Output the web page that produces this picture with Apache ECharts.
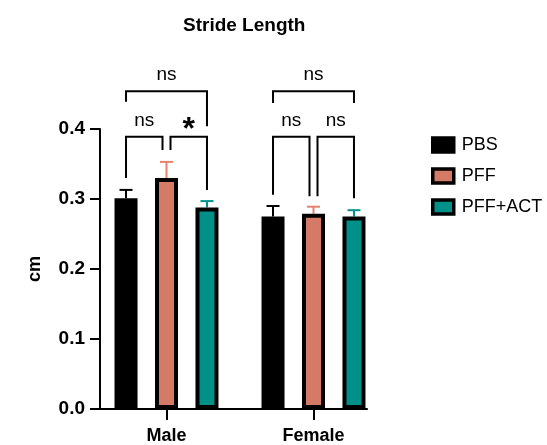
<!DOCTYPE html>
<html lang="en">
<head>
	<meta charset="UTF-8">
	<title>Stride Length</title>
	<style>
		html,body{background-color:#fff;height:100%;overflow:hidden;margin:0;padding:0;}
		#main{width:547px;height:445px;}
	</style>
</head>
<body>
	<div id="main"></div>
	<script src="https://cdn.jsdelivr.net/npm/echarts@6/dist/echarts.min.js"></script>
	<script>
		var categories = ['Male', 'Female'];
		var groupNames = ['PBS', 'PFF', 'PFF+ACT'];
		var pbsMean = [0.301, 0.275];
		var pffMean = [0.330, 0.279];
		var actMean = [0.288, 0.275];
		var pbsSem = [0.012, 0.015];
		var pffSem = [0.023, 0.010];
		var actSem = [0.009, 0.009];
		// [category, fromBar, toBar, top, leftEnd, rightEnd, label]
		var brackets = [
			[0, 0, 1, 0.389, 0.330, 0.370, 'ns'],
			[0, 1, 2, 0.389, 0.370, 0.313, '*'],
			[0, 0, 2, 0.454, 0.439, 0.404, 'ns'],
			[1, 0, 1, 0.389, 0.306, 0.304, 'ns'],
			[1, 1, 2, 0.389, 0.304, 0.301, 'ns'],
			[1, 0, 2, 0.454, 0.437, 0.437, 'ns']
		];

		var font = '"Liberation Sans", Arial, sans-serif';
		var colors = ['#000000', '#D57A66', '#00908A'];
		var errColors = ['#000000', '#E8826C', '#00948E'];
		var BAR_W = 23, BAR_GAP = 0.76;
		var STEP = BAR_W * (1 + BAR_GAP);

		var chart = echarts.init(document.getElementById('main'));

		function errRender(idx) {
			return function (params, api) {
				var c = api.value(0), m = api.value(1), e = api.value(2);
				var p0 = api.coord([c, m]);
				var p1 = api.coord([c, m + e]);
				var x = p0[0] + (idx - 1) * STEP;
				var st = {stroke: errColors[idx], lineWidth: 2};
				return {
					type: 'group',
					children: [
						{type: 'line', shape: {x1: x, y1: p0[1], x2: x, y2: p1[1]}, style: st},
						{type: 'line', shape: {x1: x - 6.5, y1: p1[1], x2: x + 6.5, y2: p1[1]}, style: st}
					]
				};
			};
		}

		function bracketRender(params, api) {
			var c = api.value(0), a = api.value(1), b = api.value(2);
			var top = api.coord([c, api.value(3)]);
			var yl = api.coord([c, api.value(4)])[1];
			var yr = api.coord([c, api.value(5)])[1];
			var xl = top[0] + (a - 1) * STEP;
			var xr = top[0] + (b - 1) * STEP;
			if (a === 1) xl += 4;
			if (b === 1) xr -= 4;
			var label = brackets[params.dataIndex][6];
			var star = label === '*';
			return {
				type: 'group',
				children: [
					{type: 'polyline', shape: {points: [[xl, yl], [xl, top[1]], [xr, top[1]], [xr, yr]]},
						style: {stroke: '#000', lineWidth: 2, fill: null}},
					{type: 'text', x: (xl + xr) / 2, y: top[1] - (star ? 7 : 16),
						style: {text: label, fill: '#000', align: 'center', verticalAlign: 'middle',
							font: (star ? 'bold 32px ' : '19px ') + font}}
				]
			};
		}

		function barSeries(idx, data) {
			return {
				name: groupNames[idx],
				type: 'bar',
				xAxisIndex: 0,
				yAxisIndex: 0,
				barWidth: BAR_W,
				barGap: (BAR_GAP * 100) + '%',
				itemStyle: {color: colors[idx], borderColor: '#000', borderWidth: 4},
				data: data
			};
		}

		function errSeries(idx, mean, sem) {
			return {
				type: 'custom',
				xAxisIndex: 0,
				yAxisIndex: 0,
				z: 1,
				renderItem: errRender(idx),
				data: categories.map(function (c, i) { return [i, mean[i], sem[i]]; })
			};
		}

		var option = {
			animation: false,
			backgroundColor: '#fff',
			title: {
				text: 'Stride Length',
				left: 178,
				top: 11,
				textStyle: {fontFamily: font, fontSize: 19, fontWeight: 'bold', color: '#000'}
			},
			legend: {
				orient: 'vertical',
				left: 426,
				top: 131,
				itemWidth: 21,
				itemHeight: 14,
				itemGap: 13,
				icon: 'rect',
				data: groupNames,
				itemStyle: {borderColor: '#000', borderWidth: 3.5},
				textStyle: {fontFamily: font, fontSize: 18, color: '#000', padding: [0, 0, 0, 3]}
			},
			grid: [
				{left: 93, right: 160, top: 129, bottom: 36},
				{left: 100, right: 180, top: 129, bottom: 36}
			],
			xAxis: [
				{
					type: 'category', gridIndex: 0, data: categories,
					axisLine: {show: false},
					axisTick: {show: true, alignWithLabel: true, length: 11, lineStyle: {color: '#000', width: 2}},
					axisLabel: {fontFamily: font, fontSize: 18, fontWeight: 'bold', color: '#000', margin: 18}
				},
				{
					type: 'value', gridIndex: 1, min: 0, max: 1,
					axisLine: {show: true, lineStyle: {color: '#000', width: 2}},
					axisTick: {show: false}, axisLabel: {show: false}, splitLine: {show: false}
				}
			],
			yAxis: [
				{type: 'value', gridIndex: 0, min: 0, max: 0.4, show: false},
				{
					type: 'value', gridIndex: 1, min: 0, max: 0.4, interval: 0.1,
					name: 'cm', nameLocation: 'middle', nameGap: 56,
					nameTextStyle: {fontFamily: font, fontSize: 18, fontWeight: 'bold', color: '#000'},
					axisLine: {show: true, lineStyle: {color: '#000', width: 2}},
					axisTick: {show: true, length: 10, lineStyle: {color: '#000', width: 2}},
					axisLabel: {
						fontFamily: font, fontSize: 19, fontWeight: 'bold', color: '#000', margin: 15,
						formatter: function (v) { return v.toFixed(1); }
					},
					splitLine: {show: false}
				}
			],
			series: [
				barSeries(0, pbsMean),
				barSeries(1, pffMean),
				barSeries(2, actMean),
				errSeries(0, pbsMean, pbsSem),
				errSeries(1, pffMean, pffSem),
				errSeries(2, actMean, actSem),
				{
					type: 'custom', xAxisIndex: 0, yAxisIndex: 0, z: 3,
					renderItem: bracketRender,
					data: brackets.map(function (b) { return b.slice(0, 6); })
				}
			]
		};
		chart.setOption(option);
	</script>
</body>
</html>
